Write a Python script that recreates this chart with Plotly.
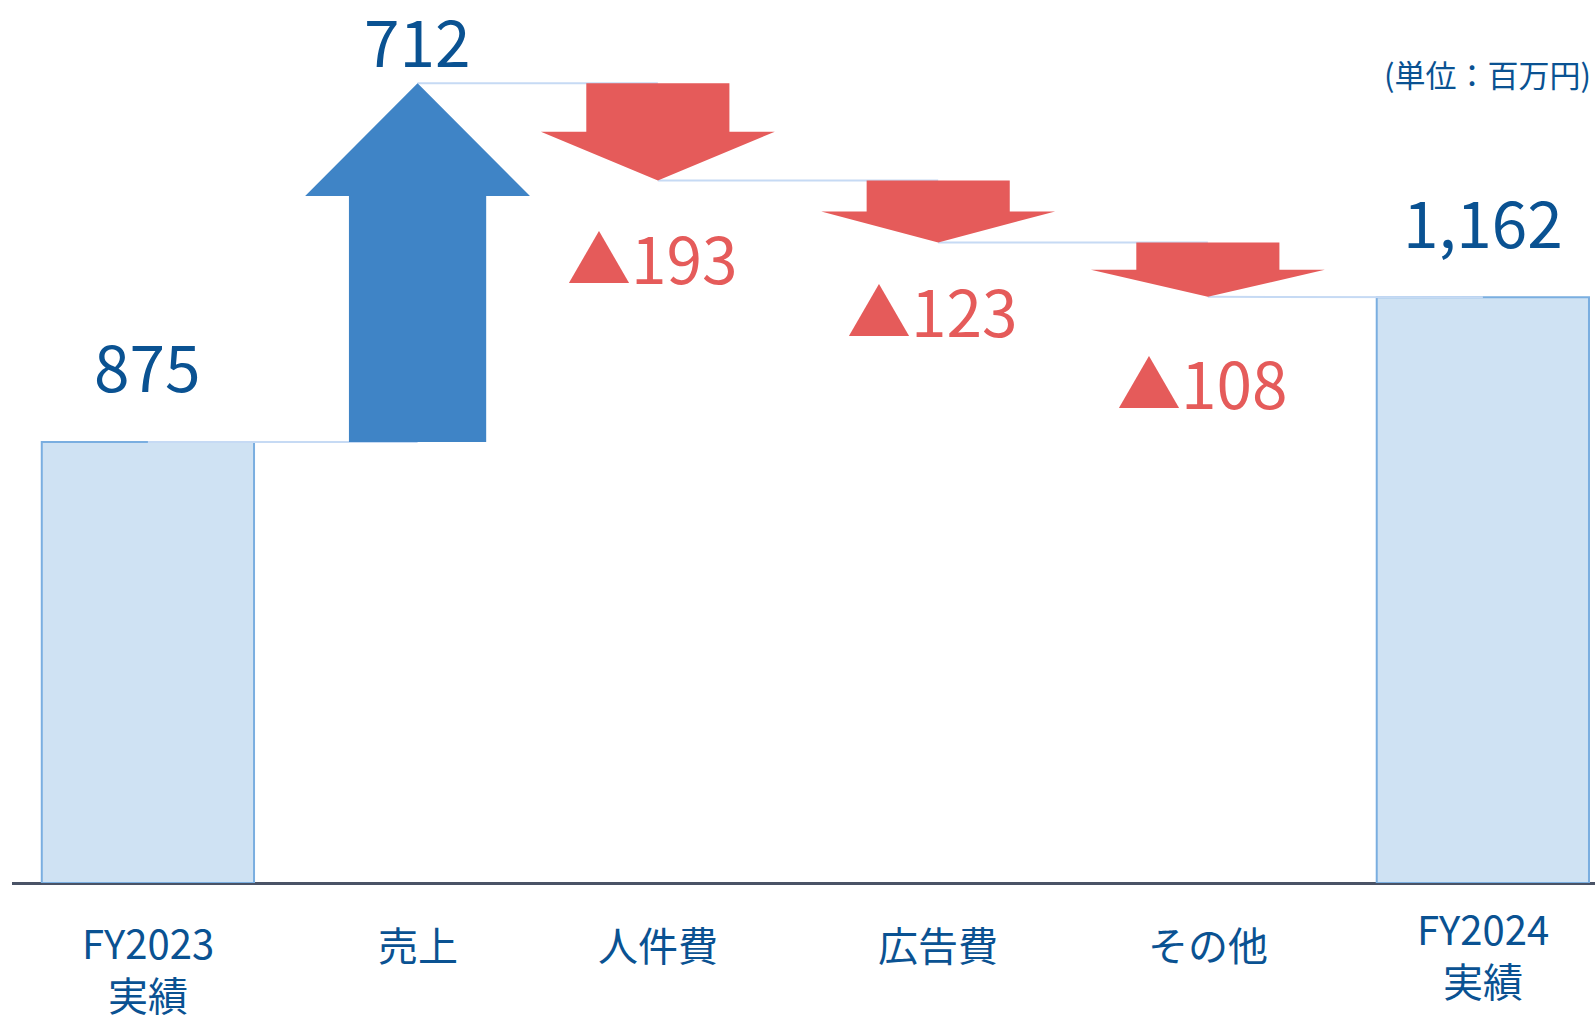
import plotly.graph_objects as go

# Operating profit bridge FY2023 -> FY2024 (millions of yen)
categories = ["FY2023<br>実績", "売上", "人件費", "広告費", "その他", "FY2024<br>実績"]
start_total = 875
end_total = 1162
changes = [712, -193, -123, -108]
value_labels = ["875", "712", "▲193", "▲123", "▲108", "1,162"]
unit_label = "(単位：百万円)"

# horizontal slot of each step on the x axis (layout)
slot_x = [0, 1.01, 1.91, 2.96, 3.97, 5]

FONT = "Noto Sans CJK JP"
NAVY = "#0a5292"
RED = "#e55b5a"
UP_BLUE = "#3f84c6"
BAR_FILL = "#cfe2f3"
BAR_EDGE = "#7aaee0"
LINK = "#c6daf4"
AXIS = "#4a5366"

fig = go.Figure()

# running levels between steps
levels = [start_total]
for c in changes:
    levels.append(levels[-1] + c)

# connector lines from one step to the next
link_pairs = [(slot_x[0], start_total, slot_x[1], levels[0])]
for i in range(len(changes)):
    y_next = levels[i + 1] if i + 1 < len(changes) else end_total
    link_pairs.append((slot_x[i + 1], levels[i + 1], slot_x[i + 2], y_next))
for x0, y0, x1, y1 in link_pairs:
    fig.add_trace(go.Scatter(x=[x0, x1], y=[y0, y1], mode="lines",
                             line=dict(color=LINK, width=2), hoverinfo="skip"))

# total bars at both ends
fig.add_trace(go.Bar(x=[slot_x[0], slot_x[-1]], y=[start_total, end_total], width=0.795,
                     marker=dict(color=BAR_FILL, line=dict(color=BAR_EDGE, width=2)),
                     hoverinfo="skip"))


def arrow(xc, y0, y1, shaft_half, head_half, head_len, color):
    """Block arrow from y0 to y1 centred on xc (data units)."""
    direction = 1 if y1 > y0 else -1
    yb = y1 - direction * head_len
    xs = [xc - shaft_half, xc - shaft_half, xc - head_half, xc,
          xc + head_half, xc + shaft_half, xc + shaft_half, xc - shaft_half]
    ys = [y0, yb, yb, y1, yb, yb, y0, y0]
    fig.add_trace(go.Scatter(x=xs, y=ys, mode="lines", fill="toself",
                             fillcolor=color, line=dict(width=0, color=color),
                             hoverinfo="skip"))


for i, c in enumerate(changes):
    xc = slot_x[i + 1]
    y0, y1 = levels[i], levels[i + 1]
    if c > 0:
        arrow(xc, y0, y1, 0.257, 0.421, 224, UP_BLUE)
    else:
        arrow(xc, y0, y1, 0.268, 0.438, abs(c) * 0.5, RED)

annotations = []
# totals and increase labels
annotations.append(dict(x=slot_x[0], y=start_total, text=value_labels[0], yshift=78))
annotations.append(dict(x=slot_x[1], y=levels[1], text=value_labels[1], yshift=44))
annotations.append(dict(x=slot_x[5], y=end_total, text=value_labels[5], yshift=77))
for a in annotations:
    a.update(xref="x", yref="y", showarrow=False, yanchor="middle",
             font=dict(family=FONT, size=64, color=NAVY))

# decrease labels under each arrow tip
drop_shift = [-76, -67, -84]
for k in range(3):
    annotations.append(dict(x=slot_x[k + 2] - 0.02, y=levels[k + 2], text=value_labels[k + 2],
                            xref="x", yref="y", showarrow=False, yanchor="middle",
                            yshift=drop_shift[k],
                            font=dict(family=FONT, size=64, color=RED)))

# category labels below the axis
cat_shift = [-85, -61, -61, -61, -61, -71]
for i, name in enumerate(categories):
    annotations.append(dict(x=slot_x[i], y=0, text=name, xref="x", yref="y",
                            showarrow=False, yanchor="middle", yshift=cat_shift[i],
                            font=dict(family=FONT, size=40, color=NAVY)))

annotations.append(dict(x=0.999, y=0.917, xref="paper", yref="paper", text=unit_label,
                        showarrow=False, xanchor="right", yanchor="middle",
                        font=dict(family=FONT, size=31, color=NAVY)))

fig.update_layout(
    width=1595, height=1016,
    margin=dict(l=12, r=0, t=0, b=133),
    paper_bgcolor="white", plot_bgcolor="white",
    showlegend=False,
    annotations=annotations,
    xaxis=dict(range=[-0.509, 5.420], showgrid=False, zeroline=False,
               showticklabels=False, ticks="", showline=False, fixedrange=True),
    yaxis=dict(range=[0, 1752], showgrid=False, zeroline=True, zerolinecolor=AXIS,
               zerolinewidth=3, showticklabels=False, ticks="", showline=False,
               fixedrange=True),
)

fig.write_html("out.html", config={"displayModeBar": False})
